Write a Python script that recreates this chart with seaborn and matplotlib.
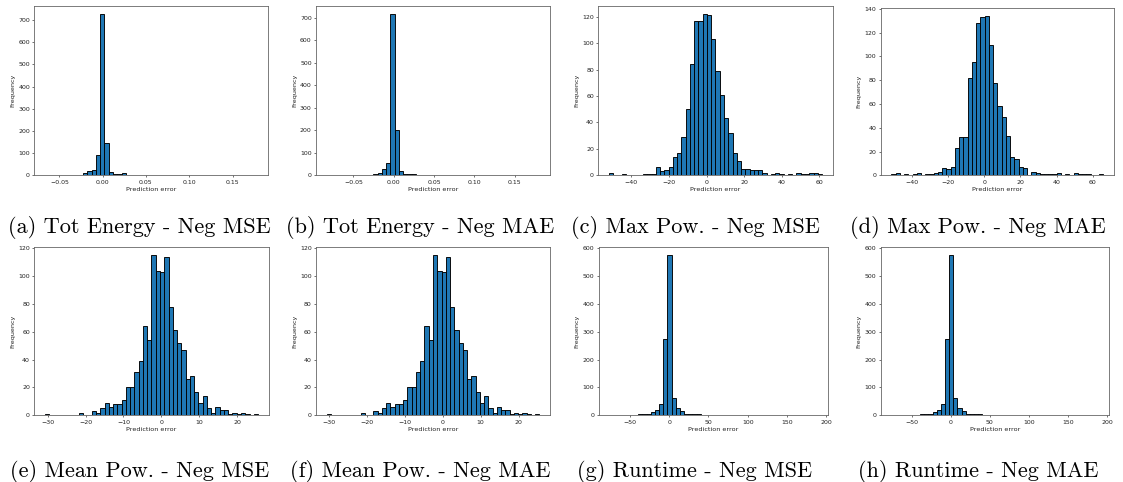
import numpy as np
import pandas as pd
import matplotlib
matplotlib.use("Agg")
import matplotlib.pyplot as plt
import seaborn as sns

# ---- histogram counts per panel (50 bins each, between lo and hi) ----
tot_energy_mse_range = (-0.0666, 0.179)
tot_energy_mse_counts = [1, 0, 0, 0, 1, 1, 1, 1, 1, 10,
                         18, 26, 93, 727, 144, 15, 8, 8, 10, 0,
                         3, 3, 0, 0, 2, 2, 0, 1, 1, 0,
                         0, 1, 0, 1, 0, 0, 0, 0, 0, 0,
                         0, 0, 0, 0, 0, 0, 0, 0, 0, 1]

tot_energy_mae_range = (-0.0832, 0.1808)
tot_energy_mae_counts = [1, 1, 0, 0, 0, 0, 0, 0, 1, 3,
                         3, 5, 10, 29, 55, 717, 203, 18, 4, 5,
                         5, 1, 1, 1, 1, 1, 1, 1, 0, 1,
                         0, 1, 1, 0, 1, 0, 0, 0, 0, 0,
                         0, 0, 0, 0, 0, 0, 0, 0, 0, 1]

max_pow_mse_range = (-51.9, 61.4)
max_pow_mse_counts = [2, 0, 0, 1, 0, 0, 0, 0, 1, 1,
                      1, 6, 3, 4, 6, 14, 17, 29, 50, 84,
                      117, 117, 122, 121, 103, 79, 61, 43, 32, 17,
                      11, 5, 5, 4, 4, 4, 2, 0, 1, 2,
                      1, 0, 1, 0, 2, 1, 1, 2, 2, 1]

max_pow_mae_range = (-51.4, 65.9)
max_pow_mae_counts = [1, 2, 0, 1, 0, 1, 2, 0, 1, 1,
                      2, 3, 6, 5, 7, 23, 32, 32, 82, 95,
                      128, 133, 134, 110, 78, 58, 49, 33, 15, 14,
                      7, 6, 0, 3, 2, 1, 1, 1, 1, 2,
                      0, 1, 0, 2, 1, 1, 1, 0, 0, 1]

mean_pow_range = (-30.7, 25.5)
mean_pow_counts = [1, 0, 0, 0, 0, 0, 0, 0, 2, 0,
                   0, 3, 2, 5, 9, 6, 8, 8, 11, 20,
                   20, 31, 39, 64, 54, 115, 104, 103, 114, 78,
                   61, 52, 47, 26, 28, 17, 9, 14, 5, 2,
                   6, 4, 4, 1, 2, 1, 2, 1, 0, 1]

runtime_range = (-76.4, 188.6)
runtime_counts = [1, 1, 1, 0, 1, 1, 2, 3, 4, 4,
                  11, 20, 41, 274, 575, 61, 26, 17, 4, 3,
                  3, 4, 2, 2, 1, 2, 0, 2, 2, 2,
                  1, 1, 1, 0, 0, 0, 1, 0, 0, 1,
                  0, 1, 0, 0, 0, 0, 0, 0, 0, 1]

captions = ["(a) Tot Energy - Neg MSE", "(b) Tot Energy - Neg MAE",
            "(c) Max Pow. - Neg MSE", "(d) Max Pow. - Neg MAE",
            "(e) Mean Pow. - Neg MSE", "(f) Mean Pow. - Neg MAE",
            "(g) Runtime - Neg MSE", "(h) Runtime - Neg MAE"]

panels = [
    (tot_energy_mse_range, tot_energy_mse_counts),
    (tot_energy_mae_range, tot_energy_mae_counts),
    (max_pow_mse_range, max_pow_mse_counts),
    (max_pow_mae_range, max_pow_mae_counts),
    (mean_pow_range, mean_pow_counts),
    (mean_pow_range, mean_pow_counts),
    (runtime_range, runtime_counts),
    (runtime_range, runtime_counts),
]

# axes boxes in pixels: left, right, top, bottom
W, H = 1123, 482
boxes = [
    (34.3, 268.3, 6.0, 175.3), (316.0, 550.0, 6.0, 175.3),
    (598.3, 832.7, 6.0, 175.3), (880.7, 1114.0, 8.0, 175.3),
    (34.3, 268.7, 247.3, 415.3), (316.0, 550.0, 247.3, 415.3),
    (598.7, 827.7, 247.3, 415.3), (880.7, 1108.7, 247.3, 415.3),
]
caption_x = [139.5, 420, 695, 978, 139.5, 420, 695, 978]
caption_base = [233, 233, 233, 233, 477, 477, 477, 477]

plt.rcParams.update({
    "font.family": ["DejaVu Sans"],
    "axes.linewidth": 0.6,
    "axes.edgecolor": "#666666",
    "xtick.major.size": 1.6,
    "ytick.major.size": 1.6,
    "xtick.major.width": 0.45,
    "ytick.major.width": 0.45,
    "xtick.major.pad": 1.5,
    "ytick.major.pad": 1.5,
    "xtick.labelsize": 4.5,
    "ytick.labelsize": 4.5,
    "xtick.color": "#222222",
    "ytick.color": "#222222",
})

fig = plt.figure(figsize=(W / 100, H / 100), dpi=100)

for (rng, counts), (l, r, t, b), cap, cx, cy in zip(panels, boxes, captions,
                                                     caption_x, caption_base):
    ax = fig.add_axes([l / W, 1 - b / H, (r - l) / W, (b - t) / H])
    edges = np.linspace(rng[0], rng[1], len(counts) + 1)
    df = pd.DataFrame({"error": (edges[:-1] + edges[1:]) / 2,
                       "n": counts})
    sns.histplot(data=df, x="error", weights="n", bins=edges.tolist(),
                 ax=ax, color="#1f77b4", edgecolor="black",
                 linewidth=0.65, alpha=1.0)
    # bars sit above the frame so single-count bins stay visible;
    # empty bins draw nothing
    for patch in ax.patches:
        patch.set_zorder(3)
        if patch.get_height() == 0:
            patch.set_visible(False)
    ax.set_xlabel("Prediction error", fontsize=4.6, labelpad=1.5,
                  color="#222222")
    ax.set_ylabel("Frequency", fontsize=4.6, labelpad=2,
                  color="#222222")
    ax.margins(x=0.05)
    fig.text(cx / W, 1 - cy / H, cap, ha="center", va="baseline",
             fontsize=16, family="cmr10")

fig.savefig("out.png", dpi=100, facecolor="white")
